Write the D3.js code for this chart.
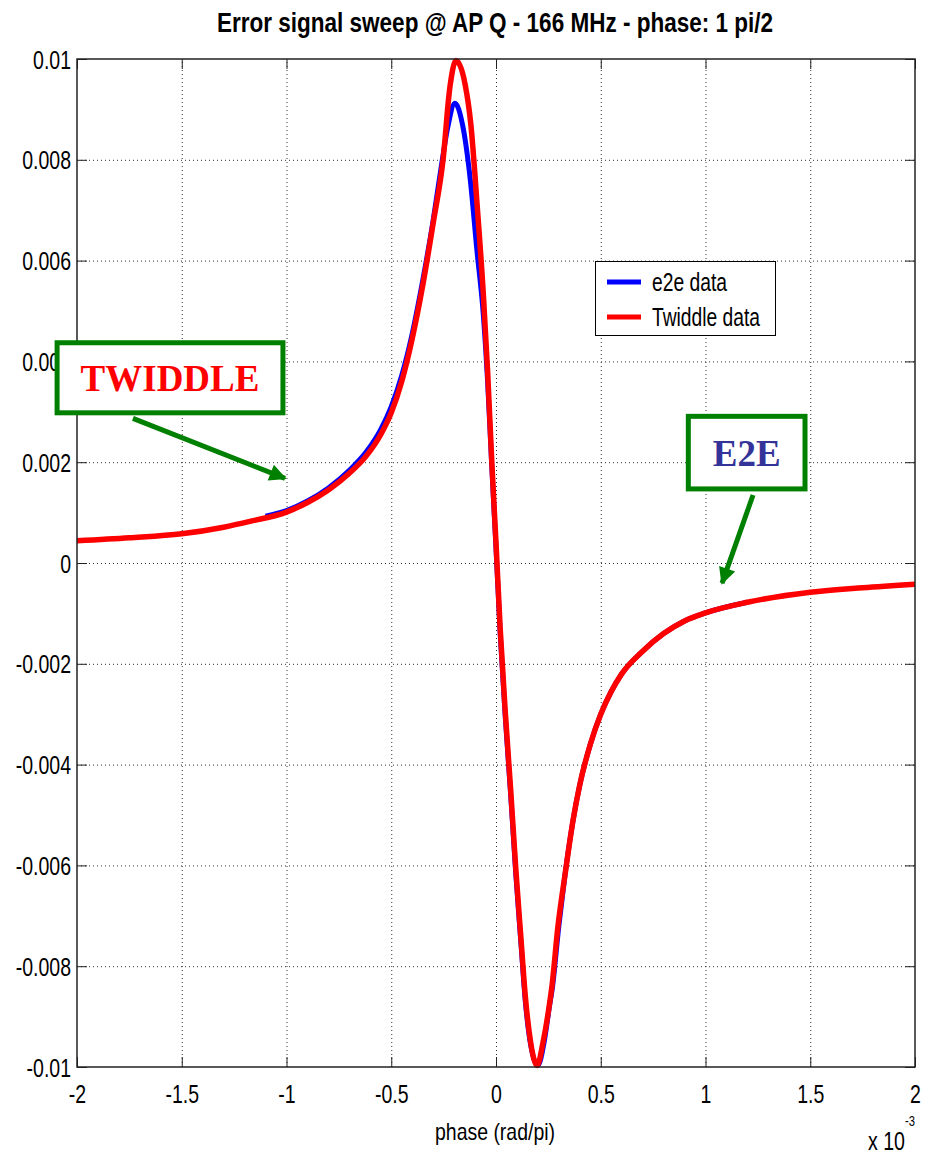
<!DOCTYPE html>
<html>
<head>
<meta charset="utf-8">
<script src="https://cdn.jsdelivr.net/npm/d3@7"></script>
<style>
  body { margin: 0; background: #fff; }
  svg { display: block; font-family: "Liberation Sans", Arial, sans-serif; }
</style>
</head>
<body>
<svg id="chart"></svg>
<script>
// phase in units of 1e-3 rad/pi, signal values
var twiddlePhase = [-2.0, -1.75, -1.5, -1.3, -1.17, -1.0, -0.9, -0.8, -0.7, -0.62, -0.55, -0.5, -0.45, -0.4, -0.35, -0.3, -0.253, -0.22, -0.191, -0.148, -0.12, -0.09, -0.06, -0.04, -0.02, 0.0, 0.02, 0.045, 0.07, 0.095, 0.12, 0.14, 0.165, 0.196, 0.225, 0.25, 0.267, 0.296, 0.329, 0.368, 0.4, 0.45, 0.5, 0.55, 0.6, 0.7, 0.8, 0.9, 1.0, 1.2, 1.5, 1.75, 2.0];
var twiddleSignal = [0.00044, 0.00050, 0.00058, 0.00071, 0.00083, 0.00101, 0.00120, 0.00145, 0.00178, 0.00212, 0.00255, 0.00298, 0.00360, 0.00445, 0.00550, 0.00674, 0.00799, 0.00944, 0.00997, 0.00951, 0.0087, 0.0071, 0.0053, 0.0038, 0.0020, 0.0004, -0.0013, -0.0030, -0.0045, -0.0061, -0.0075, -0.0086, -0.0095, -0.00997, -0.0095, -0.0089, -0.0084, -0.0072, -0.0062, -0.0051, -0.0044, -0.0036, -0.0030, -0.00255, -0.0022, -0.00175, -0.0014, -0.00115, -0.00099, -0.00078, -0.00058, -0.00049, -0.00042];

var e2ePhase = [-1.1, -1.0, -0.9, -0.8, -0.7, -0.62, -0.55, -0.5, -0.45, -0.4, -0.35, -0.3, -0.26, -0.23, -0.196, -0.16, -0.124, -0.091, -0.06, -0.04, -0.02, 0.0, 0.02, 0.045, 0.07, 0.095, 0.12, 0.14, 0.165, 0.2, 0.23, 0.255, 0.27, 0.3, 0.329, 0.368, 0.4, 0.45, 0.5, 0.55, 0.6, 0.7, 0.8, 0.9, 1.0, 1.2];
var e2eSignal = [0.00093, 0.00104, 0.00123, 0.00149, 0.00184, 0.00220, 0.00265, 0.00310, 0.00372, 0.00455, 0.00560, 0.0068, 0.0079, 0.00865, 0.00912, 0.0087, 0.00765, 0.0062, 0.0049, 0.0036, 0.0019, 0.0003, -0.0014, -0.0031, -0.0046, -0.0062, -0.0076, -0.0087, -0.00955, -0.00997, -0.0095, -0.0088, -0.0084, -0.0072, -0.0062, -0.0051, -0.0044, -0.0036, -0.0030, -0.00255, -0.0022, -0.00175, -0.0014, -0.00115, -0.00099, -0.00078];

var xTicks = [-2, -1.5, -1, -0.5, 0, 0.5, 1, 1.5, 2];
var yTicks = [-0.01, -0.008, -0.006, -0.004, -0.002, 0, 0.002, 0.004, 0.006, 0.008, 0.01];
var legendLabels = ["e2e data", "Twiddle data"];

var width = 931, height = 1154;
var plotLeft = 77, plotRight = 915, plotTop = 59, plotBottom = 1067;
var squeeze = 0.78;

var svg = d3.select('#chart')
  .attr('width', width)
  .attr('height', height)

svg.append('rect').attr('width', width).attr('height', height).attr('fill', '#fff')

var x = d3.scaleLinear().domain([-2, 2]).range([plotLeft, plotRight])
var y = d3.scaleLinear().domain([-0.01, 0.01]).range([plotBottom, plotTop])

// dotted grid
svg.append('g')
  .attr('transform', 'translate(0,' + plotBottom + ')')
  .call(d3.axisBottom(x).tickValues(xTicks.slice(1, -1)).tickSize(-(plotBottom - plotTop)).tickFormat(''))
  .call(g => g.select('.domain').remove())
  .selectAll('line')
    .attr('stroke', '#333')
    .attr('stroke-dasharray', '1,3')

svg.append('g')
  .attr('transform', 'translate(' + plotLeft + ',0)')
  .call(d3.axisLeft(y).tickValues(yTicks.slice(1, -1)).tickSize(-(plotRight - plotLeft)).tickFormat(''))
  .call(g => g.select('.domain').remove())
  .selectAll('line')
    .attr('stroke', '#333')
    .attr('stroke-dasharray', '1,3')

// curves
var line = d3.line()
  .x(d => x(d[0]))
  .y(d => y(d[1]))
  .curve(d3.curveMonotoneX)

var e2e = d3.zip(e2ePhase, e2eSignal)
var twiddle = d3.zip(twiddlePhase, twiddleSignal)

svg.append('path')
  .datum(e2e)
  .attr('d', line)
  .attr('fill', 'none')
  .attr('stroke', '#0000ff')
  .attr('stroke-width', 5)
  .attr('stroke-linejoin', 'round')

svg.append('path')
  .datum(twiddle)
  .attr('d', line)
  .attr('fill', 'none')
  .attr('stroke', '#ff0000')
  .attr('stroke-width', 5.5)
  .attr('stroke-linejoin', 'round')

// inner ticks on all four sides
function tickStyle(g) {
  g.select('.domain').remove()
  g.selectAll('line').attr('stroke', '#222').attr('stroke-width', 1)
}

var gx = svg.append('g')
  .attr('transform', 'translate(0,' + plotBottom + ')')
  .call(d3.axisBottom(x).tickValues(xTicks).tickSize(-10).tickFormat(d => String(+d.toFixed(1))))
  .call(tickStyle)
gx.selectAll('text')
  .attr('y', 36)
  .attr('dy', 0)
  .attr('x', 0)
  .attr('fill', '#000')
  .attr('font-size', 25)
  .attr('font-family', '"Liberation Sans", Arial, sans-serif')
  .attr('transform', 'scale(' + squeeze + ',1)')

svg.append('g')
  .attr('transform', 'translate(0,' + plotTop + ')')
  .call(d3.axisTop(x).tickValues(xTicks).tickSize(-10).tickFormat(''))
  .call(tickStyle)

var gy = svg.append('g')
  .attr('transform', 'translate(' + plotLeft + ',0)')
  .call(d3.axisLeft(y).tickValues(yTicks).tickSize(-10).tickFormat(d => String(+d.toFixed(3))))
  .call(tickStyle)
gy.selectAll('text')
  .attr('x', -6 / squeeze)
  .attr('dy', '0.36em')
  .attr('fill', '#000')
  .attr('font-size', 25)
  .attr('font-family', '"Liberation Sans", Arial, sans-serif')
  .attr('transform', 'scale(' + squeeze + ',1)')

svg.append('g')
  .attr('transform', 'translate(' + plotRight + ',0)')
  .call(d3.axisRight(y).tickValues(yTicks).tickSize(-10).tickFormat(''))
  .call(tickStyle)

// axes box
svg.append('rect')
  .attr('x', plotLeft).attr('y', plotTop)
  .attr('width', plotRight - plotLeft).attr('height', plotBottom - plotTop)
  .attr('fill', 'none')
  .attr('stroke', '#222')
  .attr('stroke-width', 1.5)

// title and labels
svg.append('text')
  .attr('x', 217).attr('y', 32)
  .attr('font-size', 28)
  .attr('font-weight', 'bold')
  .attr('textLength', 556)
  .attr('lengthAdjust', 'spacingAndGlyphs')
  .text('Error signal sweep @ AP Q - 166 MHz - phase: 1 pi/2')

svg.append('text')
  .attr('x', 435).attr('y', 1140)
  .attr('font-size', 24)
  .attr('textLength', 120)
  .attr('lengthAdjust', 'spacingAndGlyphs')
  .text('phase (rad/pi)')

var mult = svg.append('text')
  .attr('x', 868).attr('y', 1150)
  .attr('font-size', 25)
mult.append('tspan').text('x 10')
  .attr('textLength', 37).attr('lengthAdjust', 'spacingAndGlyphs')
mult.append('tspan').text('-3')
  .attr('dy', -24).attr('font-size', 15)
  .attr('textLength', 10).attr('lengthAdjust', 'spacingAndGlyphs')

// legend
var legend = svg.append('g')
legend.append('rect')
  .attr('x', 595.5).attr('y', 261.5)
  .attr('width', 180).attr('height', 74)
  .attr('fill', '#fff')
  .attr('stroke', '#000')
  .attr('stroke-width', 1)
var legendColors = ['#0000ff', '#ff0000']
var legendWidths = [75, 108]
legendLabels.forEach(function(label, i) {
  var ly = 282 + i * 35
  legend.append('line')
    .attr('x1', 607).attr('x2', 641)
    .attr('y1', ly).attr('y2', ly)
    .attr('stroke', legendColors[i])
    .attr('stroke-width', 5)
  legend.append('text')
    .attr('x', 652).attr('y', ly + 9)
    .attr('font-size', 25)
    .attr('textLength', legendWidths[i])
    .attr('lengthAdjust', 'spacingAndGlyphs')
    .text(label)
})

// annotations (positions in data units)
var green = '#008000'
svg.append('defs').append('marker')
  .attr('id', 'head')
  .attr('viewBox', '0 0 10 10')
  .attr('refX', 9).attr('refY', 5)
  .attr('markerWidth', 4).attr('markerHeight', 3.4)
  .attr('markerUnits', 'strokeWidth')
  .attr('orient', 'auto')
  .append('path')
    .attr('d', 'M0,0L10,5L0,10z')
    .attr('fill', green)

var notes = [
  { text: 'TWIDDLE', color: '#ff0000', x0: -2.095, x1: -1.017, y0: 0.00437, y1: 0.00298, tail: [-1.733, 0.00287], tip: [-1.007, 0.00168] },
  { text: 'E2E', color: '#333399', x0: 0.918, x1: 1.475, y0: 0.00291, y1: 0.00147, tail: [1.227, 0.00135], tip: [1.079, -0.00040] }
]

notes.forEach(function(n) {
  svg.append('line')
    .attr('x1', x(n.tail[0])).attr('y1', y(n.tail[1]))
    .attr('x2', x(n.tip[0])).attr('y2', y(n.tip[1]))
    .attr('stroke', green)
    .attr('stroke-width', 5)
    .attr('marker-end', 'url(#head)')
  svg.append('rect')
    .attr('x', x(n.x0)).attr('y', y(n.y0))
    .attr('width', x(n.x1) - x(n.x0)).attr('height', y(n.y1) - y(n.y0))
    .attr('fill', '#fff')
    .attr('stroke', green)
    .attr('stroke-width', 5)
  svg.append('text')
    .attr('x', (x(n.x0) + x(n.x1)) / 2)
    .attr('y', (y(n.y0) + y(n.y1)) / 2 + 13)
    .attr('text-anchor', 'middle')
    .attr('font-family', '"Liberation Serif", "Times New Roman", serif')
    .attr('font-weight', 'bold')
    .attr('font-size', 37)
    .attr('fill', n.color)
    .text(n.text)
})
</script>
</body>
</html>
